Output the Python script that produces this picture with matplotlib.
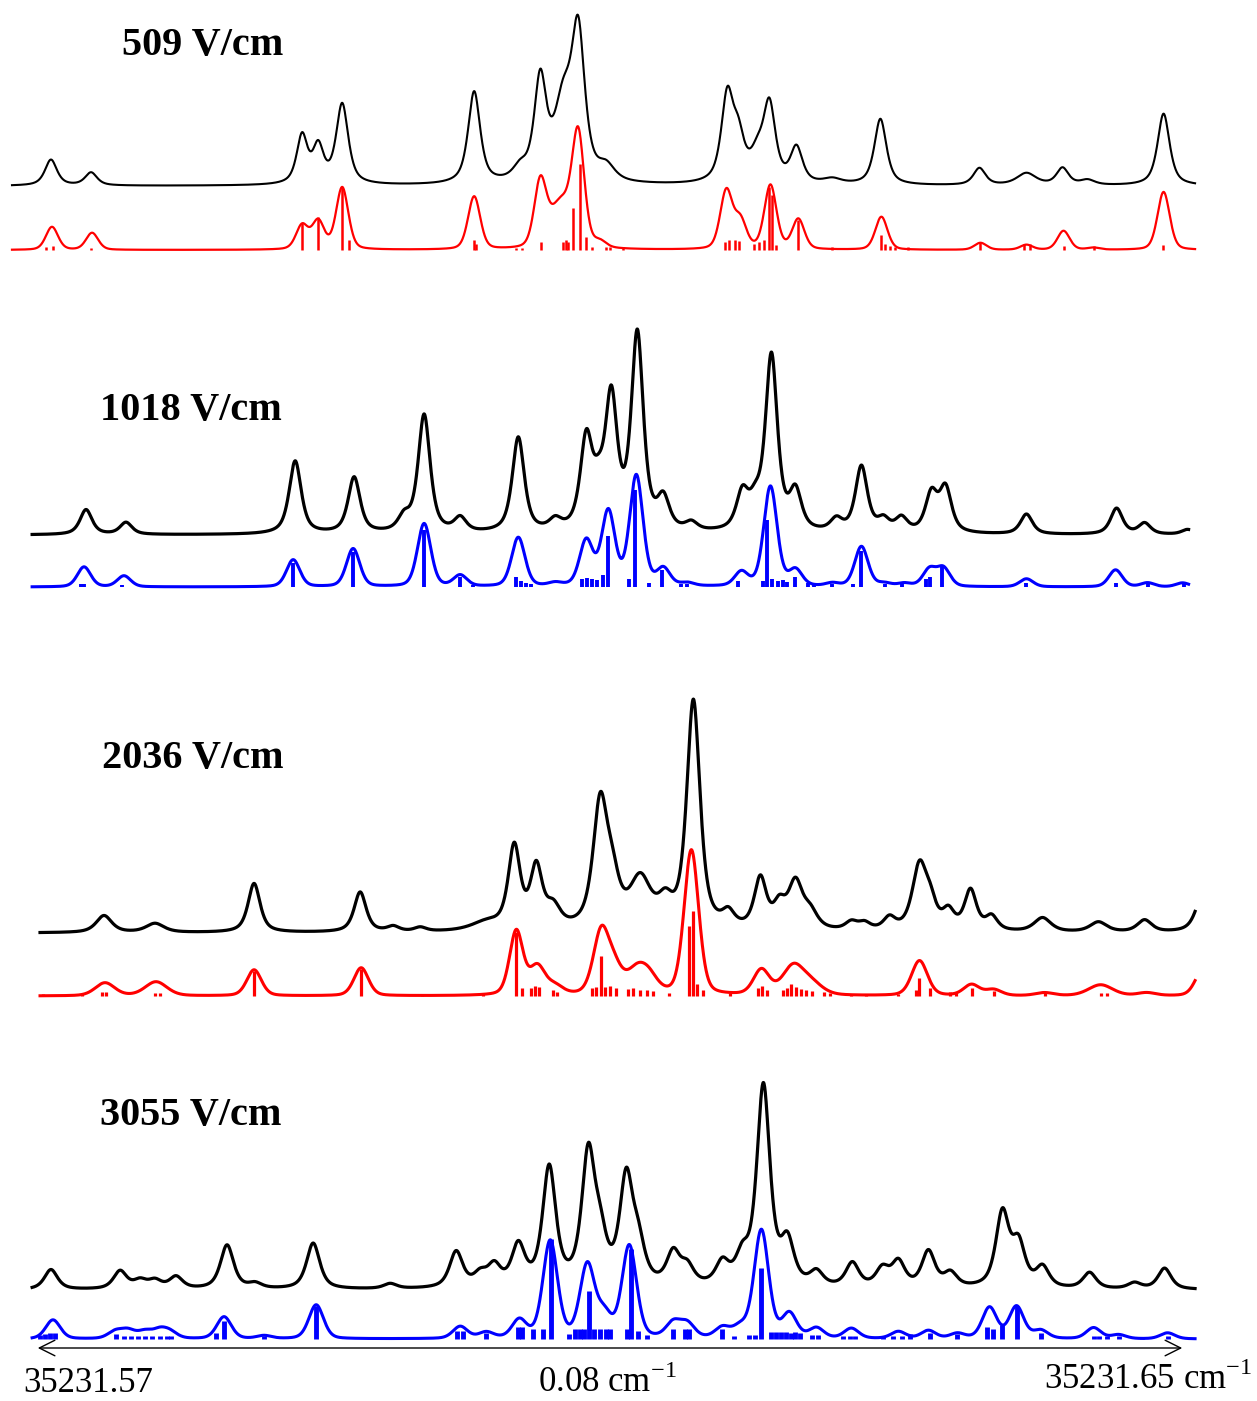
import numpy as np
import matplotlib
matplotlib.use("Agg")
from matplotlib import pyplot as plt

plt.rcParams["mathtext.fontset"] = "custom"
plt.rcParams["mathtext.rm"] = "Liberation Serif"

# frequency offsets in mK (1e-3 cm-1) from 35231.57 cm-1, intensities in arb. units

# ---- 509 V/cm ----
p1_exp_pos = [1.11, 3.90, 18.58, 19.70, 21.37, 30.55, 33.76, 35.15, 36.75, 37.79, 39.74,
              48.16, 48.93, 50.25, 51.09, 52.97, 55.47, 58.81, 65.70, 68.97, 71.48, 73.22, 78.51]
p1_exp_amp = [26, 13, 48, 36, 80, 92, 12, 100, 75, 142, 14,
              85, 40, 25, 75, 35, 5, 66, 17, 12, 17, 5, 72]
p1_exp_wid = [1.0, 1.0, 0.9, 0.9, 1.0, 1.0, 1.2, 1.0, 1.5, 1.1, 1.4,
              1.0, 1.0, 1.2, 1.0, 1.0, 1.5, 1.0, 1.0, 1.6, 1.0, 1.2, 1.0]
p1_sim_pos = [1.18, 3.97, 18.58, 19.70, 21.37, 30.55, 35.15, 36.60, 37.79, 39.30,
              48.09, 49.07, 51.16, 53.10, 58.88, 65.77, 68.97, 71.55, 73.64, 78.51]
p1_sim_amp = [23, 17, 24, 28, 62, 53, 64, 45, 108, 6,
              58, 28, 64, 30, 33, 7, 5, 19, 2, 58]
p1_sim_wid = [1.0, 1.0, 1.0, 1.0, 1.0, 1.0, 1.0, 1.8, 1.0, 1.0,
              1.0, 1.0, 1.0, 1.0, 1.0, 1.0, 1.0, 1.0, 1.0, 1.0]
p1_stk_pos = [0.77, 1.25, 3.90, 18.58, 19.70, 21.37, 21.85, 30.55, 30.69, 33.48, 33.90,
              35.22, 36.75, 36.96, 37.10, 37.44, 37.93, 38.35, 38.77, 39.74, 40.02, 40.92,
              48.02, 48.30, 48.72, 49.00, 50.04, 50.39, 50.74, 51.09, 51.30, 51.57, 53.10,
              55.47, 58.88, 59.16, 59.51, 59.86, 60.76, 65.77, 68.83, 69.25, 71.55, 73.64, 78.44]
p1_stk_amp = [3, 4, 2, 27, 33, 63, 10, 10, 6, 2, 2,
              8, 8, 10, 8, 42, 86, 13, 3, 3, 3, 3,
              8, 10, 10, 9, 6, 8, 10, 63, 55, 5, 30,
              3, 15, 6, 4, 3, 3, 8, 6, 6, 4, 4, 5]

# ---- 1018 V/cm ----
p2_exp_pos = [3.55, 6.33, 18.10, 22.20, 25.68, 27.07, 29.58, 33.62, 36.19, 38.35, 39.20, 40.09,
              41.90, 43.71, 45.66, 49.21, 50.11, 51.23, 52.90, 55.75, 57.49, 59.02, 60.27,
              62.36, 63.34, 68.97, 75.24, 77.19, 80.18]
p2_exp_amp = [25, 12, 73, 56, 14, 118, 14, 95, 10, 88, 30, 128,
              195, 30, 8, 36, 22, 175, 38, 12, 66, 12, 14,
              38, 44, 20, 26, 11, 5]
p2_sim_pos = [3.41, 6.19, 17.96, 22.13, 27.07, 29.58, 33.62, 36.19, 38.35, 39.88, 41.83,
              43.71, 45.38, 49.14, 51.16, 52.90, 55.47, 57.49, 59.09, 60.48, 62.22, 63.20,
              68.97, 75.17, 77.40, 79.83]
p2_sim_amp = [20, 11, 27, 38, 63, 11, 49, 3, 45, 74, 110,
              17, 3, 14, 100, 16, 3, 40, 3, 3, 17, 18,
              8, 17, 4, 4]
p2_stk_pos = [3.20, 3.41, 6.06, 17.96, 22.13, 27.07, 29.58, 30.48, 33.48, 33.83, 34.17, 34.52,
              38.07, 38.42, 38.77, 39.12, 39.53, 39.88, 41.34, 41.76, 42.73, 43.64, 44.96, 45.38,
              48.93, 50.67, 50.95, 51.30, 51.71, 52.06, 52.34, 52.90, 53.80, 54.22, 55.47,
              56.93, 57.49, 59.16, 60.34, 62.01, 62.29, 63.13, 68.97, 75.17, 77.40, 79.90]
p2_stk_amp = [3, 3, 2, 24, 35, 57, 10, 2, 10, 6, 4, 3,
              8, 9, 8, 7, 12, 51, 8, 97, 4, 17, 3, 3,
              6, 6, 67, 8, 6, 7, 5, 10, 4, 4, 3,
              3, 36, 3, 3, 8, 10, 20, 4, 4, 3, 3]

# ---- 2036 V/cm ----
p3_exp_pos = [4.80, 8.35, 15.24, 22.62, 24.92, 26.80, 31.39, 33.34, 34.87, 36.05, 39.32,
              40.16, 42.11, 43.85, 45.80, 48.23, 50.46, 51.78, 52.90, 53.94, 56.79, 57.70,
              59.44, 61.53, 62.29, 63.54, 65.08, 66.54, 70.09, 73.98, 77.19, 81.30]
p3_exp_amp = [17, 9, 49, 40, 5, 4, 8, 82, 60, 20, 122,
              40, 48, 22, 228, 14, 50, 22, 46, 16, 8, 7,
              12, 64, 22, 18, 40, 14, 14, 10, 12, 42]
p3_exp_wid = [1.3, 1.5, 1.0, 1.0, 1.0, 1.0, 2.5, 1.0, 1.0, 1.2, 1.2,
              1.2, 1.8, 1.2, 1.1, 1.0, 1.0, 1.0, 1.2, 1.2, 1.0, 1.0,
              1.0, 1.2, 1.0, 1.0, 1.0, 1.0, 1.4, 1.4, 1.2, 1.2]
p3_sim_pos = [4.87, 8.42, 15.24, 22.69, 33.48, 34.94, 36.19, 39.39, 40.30, 41.90, 42.73,
              45.66, 50.53, 52.76, 54.08, 61.53, 65.15, 66.68, 70.23, 74.13, 77.33, 81.20]
p3_sim_amp = [13, 14, 26, 28, 64, 28, 8, 62, 22, 24, 12,
              145, 25, 29, 10, 35, 11, 6, 3, 11, 3, 25]
p3_sim_wid = [1.6, 1.8, 1.2, 1.2, 1.1, 1.3, 1.3, 1.3, 1.3, 1.8, 1.5,
              1.2, 1.3, 1.8, 1.8, 1.3, 1.3, 1.3, 1.5, 2.0, 1.5, 1.2]
p3_stk_pos = [0.56, 3.27, 4.66, 4.94, 8.35, 8.70, 15.24, 22.69, 26.94, 31.18, 33.48, 33.90,
              34.52, 34.80, 35.08, 36.05, 36.33, 38.77, 39.05, 39.39, 39.67, 40.02, 40.44,
              41.27, 41.62, 42.11, 42.60, 43.01, 44.13, 45.52, 45.80, 46.08, 46.49, 48.37,
              50.32, 50.60, 50.95, 52.06, 52.34, 52.62, 52.97, 53.31, 53.66, 54.08, 54.91,
              55.33, 56.79, 57.84, 60.06, 61.32, 61.53, 62.29, 63.68, 64.10, 65.15, 66.68,
              70.23, 74.13, 74.54]
p3_stk_amp = [2, 2, 4, 4, 3, 3, 25, 27, 2, 2, 64, 8,
              8, 10, 9, 6, 4, 8, 9, 40, 9, 10, 8,
              7, 8, 6, 6, 5, 3, 70, 85, 12, 6, 3,
              8, 10, 6, 6, 8, 12, 9, 7, 6, 5, 4,
              3, 2, 2, 2, 6, 18, 8, 4, 4, 8, 5,
              3, 3, 3]

# ---- 3055 V/cm ----
p4_exp_pos = [1.11, 5.92, 7.31, 8.35, 9.81, 13.36, 15.31, 19.35, 24.71, 29.30, 30.97,
              31.95, 33.62, 35.77, 38.49, 39.32, 41.13, 41.97, 44.40, 45.38, 47.82, 49.21,
              50.67, 52.34, 54.36, 56.86, 58.95, 60.06, 62.15, 63.68, 67.30, 68.42, 70.09,
              73.36, 76.49, 78.58]
p4_exp_amp = [20, 18, 8, 8, 12, 44, 5, 46, 5, 36, 12,
              20, 40, 118, 128, 40, 104, 36, 32, 18, 22, 26,
              200, 42, 14, 24, 18, 25, 36, 14, 74, 42, 20,
              16, 6, 21]
p4_sim_pos = [1.25, 5.57, 6.47, 7.66, 8.70, 9.40, 13.15, 15.94, 19.56, 29.58, 31.39,
              33.69, 35.84, 38.42, 39.60, 41.34, 44.40, 45.38, 47.82, 49.07, 50.53, 52.48,
              54.36, 56.79, 60.06, 62.15, 64.17, 66.40, 68.28, 69.96, 73.64, 75.38, 78.79]
p4_sim_amp = [19, 7, 8, 7, 8, 6, 22, 3, 34, 12, 6,
              18, 97, 72, 22, 92, 15, 14, 10, 10, 108, 24,
              10, 10, 7, 8, 5, 31, 32, 8, 11, 4, 6]
p4_stk_pos = [0.35, 0.70, 1.04, 1.39, 5.64, 6.19, 6.68, 7.17, 7.66, 8.14, 8.70, 9.19, 9.47,
              12.60, 13.15, 15.94, 19.56, 29.37, 29.79, 31.39, 33.62, 33.90, 34.66, 35.36,
              35.91, 37.17, 37.58, 37.93, 38.21, 38.56, 38.91, 39.32, 39.74, 40.02, 41.20,
              41.48, 41.97, 42.60, 44.40, 45.24, 45.52, 47.82, 48.65, 49.69, 50.11, 50.53,
              51.23, 51.57, 51.92, 52.27, 52.62, 52.90, 53.24, 54.08, 54.50, 56.24, 56.72,
              57.07, 59.02, 59.72, 60.34, 60.90, 62.29, 64.17, 66.26, 66.61, 67.30, 68.28,
              69.96, 73.64, 74.05, 74.54, 75.38, 76.98, 78.79]
p4_stk_amp = [4, 5, 6, 6, 5, 3, 3, 3, 3, 3, 3, 3, 3,
              6, 18, 3, 33, 8, 8, 6, 12, 12, 10, 10,
              100, 5, 10, 10, 10, 48, 10, 10, 10, 10, 10,
              90, 8, 4, 10, 10, 10, 10, 3, 4, 4, 71,
              7, 7, 7, 7, 6, 7, 6, 4, 4, 3, 3,
              3, 3, 3, 3, 5, 6, 5, 12, 10, 14, 33,
              6, 3, 3, 3, 3, 2, 3]

fields = ["509 V/cm", "1018 V/cm", "2036 V/cm", "3055 V/cm"]


def profile(x, pos, amp, wid, eta):
    y = np.zeros_like(x)
    for x0, a, w in zip(pos, amp, wid):
        hw = w / 2.0
        lor = 1.0 / (1.0 + ((x - x0) / hw) ** 2)
        gau = np.exp(-np.log(2) * ((x - x0) / hw) ** 2)
        y += a * (eta * lor + (1 - eta) * gau)
    return y


def const(w, n):
    return [w] * n


fig = plt.figure(figsize=(12.57, 14.01), dpi=100)
ax = fig.add_axes([0, 0, 1, 1])
ax.set_xlim(-35 / 14.375, 1222 / 14.375)
ax.set_ylim(0, 1401)
ax.axis("off")

panels = [
    dict(ep=p1_exp_pos, ea=p1_exp_amp, ew=p1_exp_wid, sp=p1_sim_pos, sa=p1_sim_amp,
         sw=p1_sim_wid, kp=p1_stk_pos, ka=p1_stk_amp, c="#ff0000",
         eb=1215, sb=1151, xr=(-1.6, 80.7), elw=1.5, slw=1.6, klw=1.8),
    dict(ep=p2_exp_pos, ea=p2_exp_amp, ew=const(1.0, len(p2_exp_pos)), sp=p2_sim_pos, sa=p2_sim_amp,
         sw=const(1.1, len(p2_sim_pos)), kp=p2_stk_pos, ka=p2_stk_amp, c="#0000ff",
         eb=866, sb=814, xr=(-0.2, 80.25), elw=2.3, slw=2.2, klw=2.8),
    dict(ep=p3_exp_pos, ea=p3_exp_amp, ew=p3_exp_wid, sp=p3_sim_pos, sa=p3_sim_amp,
         sw=p3_sim_wid, kp=p3_stk_pos, ka=p3_stk_amp, c="#ff0000",
         eb=468, sb=405, xr=(0.35, 80.7), elw=2.3, slw=2.2, klw=2.3),
    dict(ep=p4_exp_pos, ea=p4_exp_amp, ew=const(1.1, len(p4_exp_pos)), sp=p4_sim_pos, sa=p4_sim_amp,
         sw=const(1.2, len(p4_sim_pos)), kp=p4_stk_pos, ka=p4_stk_amp, c="#0000ff",
         eb=111, sb=62, xr=(-0.2, 80.7), elw=2.3, slw=2.2, klw=3.5),
]

for p in panels:
    x = np.linspace(p["xr"][0], p["xr"][1], 4000)
    ax.plot(x, p["eb"] + profile(x, p["ep"], p["ea"], p["ew"], 0.7), color="black", lw=p["elw"])
    ax.plot(x, p["sb"] + profile(x, p["sp"], p["sa"], p["sw"], 0.3), color=p["c"], lw=p["slw"])
    ax.vlines(p["kp"], p["sb"], p["sb"] + np.array(p["ka"]), color=p["c"], lw=p["klw"])

title_xy = [(122, 46), (100, 410), (102, 758), (100, 1115)]
for t, (px, py) in zip(fields, title_xy):
    fig.text(px / 1257, 1 - py / 1401, t, ha="left", va="center",
             family="Liberation Serif", weight="bold", size=29)

# frequency span arrow
ax.annotate("", xy=(0, 53), xytext=(80, 53),
            arrowprops=dict(arrowstyle="<->", lw=1.0, color="black", mutation_scale=28))
fig.text(88 / 1257, 1 - 1383 / 1401, "35231.57", ha="center", va="center",
         family="Liberation Serif", size=25)
fig.text(607 / 1257, 1 - 1383 / 1401, r"0.08 cm$^{\mathrm{-1}}$", ha="center", va="center",
         family="Liberation Serif", size=25)
fig.text(1252 / 1257, 1 - 1380 / 1401, r"35231.65 cm$^{\mathrm{-1}}$", ha="right", va="center",
         family="Liberation Serif", size=25)

fig.savefig("out.png", dpi=100)
